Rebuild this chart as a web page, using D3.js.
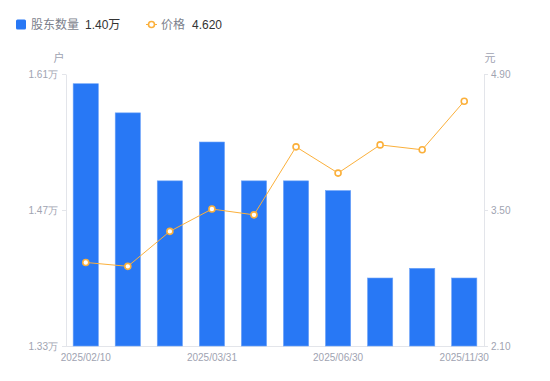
<!DOCTYPE html>
<html>
<head>
<meta charset="utf-8">
<script src="https://cdn.jsdelivr.net/npm/d3@7"></script>
<style>
  body { margin: 0; background: #fff; font-family: "Liberation Sans", Arial, "Noto Sans CJK SC", sans-serif; }
  svg { display: block; }
</style>
</head>
<body>
<svg id="canvas" width="550" height="381"></svg>
<script>
// data
const dates = ['2025/02/10', '2025/02/28', '2025/03/10', '2025/03/31', '2025/04/30',
  '2025/05/31', '2025/06/30', '2025/08/31', '2025/09/30', '2025/11/30'];
const holders = [1.60, 1.57, 1.50, 1.54, 1.50, 1.50, 1.49, 1.40, 1.41, 1.40]; // 万户
const prices = [2.96, 2.92, 3.28, 3.51, 3.45, 4.15, 3.88, 4.17, 4.12, 4.62];  // 元
const leftTicks = [1.33, 1.47, 1.61];
const rightTicks = [2.10, 3.50, 4.90];
const shownDates = ['2025/02/10', '2025/03/31', '2025/06/30', '2025/11/30'];

const settings = {
  left: 66, right: 484, top: 74, bottom: 346,
  blue: '#2878f5', orange: '#fbb03b', axis: '#e3e5ea', label: '#a0a3b1',
};

function graph() {
  const svg = d3.select('#canvas');
  const s = settings;

  const x = d3.scaleBand()
    .domain(dates)
    .range([s.left, s.right])
    .paddingInner(0.4)
    .paddingOuter(0.17);

  const yl = d3.scaleLinear().domain([1.33, 1.61]).range([s.bottom, s.top]);
  const yr = d3.scaleLinear().domain([2.10, 4.90]).range([s.bottom, s.top]);

  const styleAxis = g => {
    g.select('.domain').attr('stroke', s.axis);
    g.selectAll('.tick line').attr('stroke', s.axis);
    g.selectAll('.tick text').attr('fill', s.label).attr('font-size', 10);
  };

  // left axis
  svg.append('g')
    .attr('transform', `translate(${s.left},0)`)
    .call(d3.axisLeft(yl).tickValues(leftTicks).tickFormat(d => d3.format('.2f')(d) + '万').tickSize(4).tickSizeOuter(0).tickPadding(4))
    .call(styleAxis);

  // right axis
  svg.append('g')
    .attr('transform', `translate(${s.right},0)`)
    .call(d3.axisRight(yr).tickValues(rightTicks).tickFormat(d3.format('.2f')).tickSize(4).tickSizeOuter(0).tickPadding(3))
    .call(styleAxis);

  // bottom axis
  svg.append('g')
    .attr('transform', `translate(0,${s.bottom})`)
    .call(d3.axisBottom(x).tickValues(shownDates).tickSize(0).tickPadding(8))
    .call(styleAxis)
    .call(g => g.select('.domain').attr('d', `M${s.left},0.5H${s.right}`));

  // unit labels
  svg.append('text').attr('x', 59).attr('y', 62).attr('text-anchor', 'middle')
    .attr('font-size', 11).attr('fill', s.label).text('户');
  svg.append('text').attr('x', 490).attr('y', 62).attr('text-anchor', 'middle')
    .attr('font-size', 11).attr('fill', s.label).text('元');

  // bars
  svg.append('g')
    .selectAll('rect')
    .data(holders)
    .join('rect')
    .attr('x', (d, i) => x(dates[i]))
    .attr('y', d => yl(d))
    .attr('width', x.bandwidth())
    .attr('height', d => s.bottom - yl(d))
    .attr('fill', s.blue)
    .attr('stroke', '#6ea3f8')
    .attr('stroke-width', 0.6);

  // price line
  const cx = (d, i) => x(dates[i]) + x.bandwidth() / 2;
  svg.append('path')
    .datum(prices)
    .attr('fill', 'none')
    .attr('stroke', s.orange)
    .attr('stroke-width', 1)
    .attr('d', d3.line().x(cx).y(d => yr(d)));

  svg.append('g')
    .selectAll('circle')
    .data(prices)
    .join('circle')
    .attr('cx', cx)
    .attr('cy', d => yr(d))
    .attr('r', 3)
    .attr('fill', '#fff')
    .attr('stroke', s.orange)
    .attr('stroke-width', 1.6);

  // legend
  const lg = svg.append('g');
  lg.append('rect').attr('x', 16).attr('y', 19.5).attr('width', 10).attr('height', 10)
    .attr('rx', 1.5).attr('fill', s.blue);
  lg.append('text').attr('x', 31).attr('y', 29).attr('font-size', 12).attr('fill', '#7c7f8c').text('股东数量');
  lg.append('text').attr('x', 85).attr('y', 29).attr('font-size', 12).attr('fill', '#333').text('1.40万');

  lg.append('line').attr('x1', 146).attr('x2', 157).attr('y1', 24.5).attr('y2', 24.5)
    .attr('stroke', s.orange).attr('stroke-width', 1);
  lg.append('circle').attr('cx', 151.5).attr('cy', 24.5).attr('r', 3)
    .attr('fill', '#fff').attr('stroke', s.orange).attr('stroke-width', 1.6);
  lg.append('text').attr('x', 161).attr('y', 29).attr('font-size', 12).attr('fill', '#7c7f8c').text('价格');
  lg.append('text').attr('x', 192).attr('y', 29).attr('font-size', 12).attr('fill', '#333').text(d3.format('.3f')(prices[prices.length - 1]));
}

window.addEventListener('DOMContentLoaded', () => graph());
</script>
</body>
</html>
